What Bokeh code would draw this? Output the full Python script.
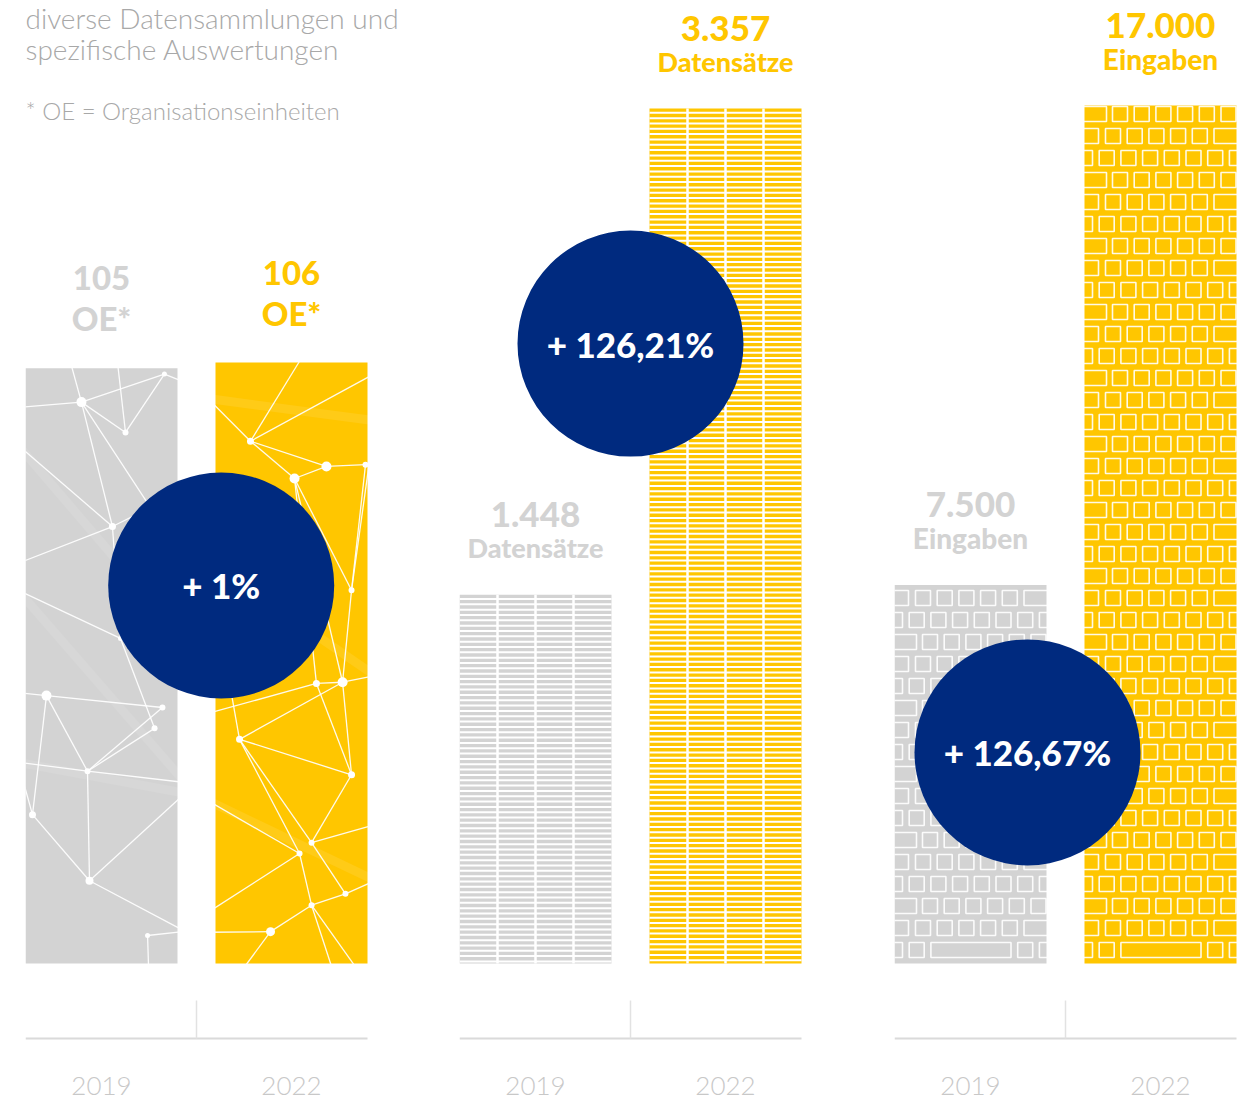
from bokeh.plotting import figure
from bokeh.layouts import row
from bokeh.models import Range1d, FixedTicker, Label
from bokeh.core.properties import value
from bokeh.embed import file_html
from bokeh.resources import INLINE

# ---------------- data ----------------
years = ["2019", "2022"]
oe_counts = [105, 106]
datensaetze = [1448, 3357]
eingaben = [7500, 17000]
units = ["OE*", "Datensätze", "Eingaben"]
change_labels = ["+ 1%", "+ 126,21%", "+ 126,67%"]
intro_lines = ["diverse Datensammlungen und", "spezifische Auswertungen"]
footnote = "* OE = Organisationseinheiten"

# ---------------- style / layout ----------------
GRAY = "#d3d3d3"
YELLOW = "#ffc600"
NAVY = "#002a7f"
TEXT_GRAY = "#a8a8a8"
LABEL_GRAY = "#d3d3d3"
YEAR_GRAY = "#c8c8c8"
AXIS_GRAY = "#dadada"
FONT_HEAVY = "'Lato Black', Lato"
FONT_LIGHT = "'Lato Light', Lato"

FIG_H = 1099
BASE = 963            # value 0 in px from top of frame
AXIS_PX = 1038        # axis line in px from top of frame
PX_PER_UNIT = 190.0   # px per category step
BAR_W = 0.8
BAR_PX = BAR_W * PX_PER_UNIT

# ---------------- decoration (texture styles, in bar-relative units) ----------------
# network texture: nodes (u across bar, v down from bar top, dot size px), edges
NET = [
    dict(nodes=[(.368, .057, 10), (.658, .108, 6), (.914, .010, 5), (.572, .266, 7), (.625, .454, 5),
                (.138, .550, 10), (.901, .570, 6), (.849, .605, 6), (.408, .677, 6), (.046, .750, 7),
                (.421, .861, 8), (.803, .953, 5),
                (-.05, .066, 0), (.296, -.01, 0), (.605, -.01, 0), (1.05, .323, 0), (-.05, .129, 0),
                (1.05, .205, 0), (-.05, .328, 0), (-.05, .373, 0), (-.05, .545, 0), (1.05, .696, 0),
                (1.05, .714, 0), (1.05, .946, 0), (.81, 1.01, 0), (-.05, .662, 0), (1.05, .024, 0),
                (1.05, .457, 0)],
         edges=[(12, 0), (0, 2), (0, 1), (1, 2), (2, 26), (13, 0), (14, 1), (0, 3), (0, 15), (16, 3),
                (3, 17), (18, 3), (19, 4), (3, 4), (4, 27), (20, 5), (5, 6), (5, 8), (8, 7), (8, 6),
                (25, 8), (8, 21), (8, 10), (10, 22), (9, 10), (10, 23), (11, 23), (11, 24), (4, 7),
                (9, 25), (5, 9)],
         glow=[(16, 27), (25, 22), (19, 21)]),
    dict(nodes=[(.230, .131, 7), (.520, .193, 10), (.730, .173, 10), (.987, .170, 6), (.895, .379, 6),
                (.664, .534, 7), (.836, .532, 10), (.158, .627, 7), (.895, .686, 7), (.632, .799, 6),
                (.553, .817, 6), (.855, .884, 6), (.632, .903, 6), (.362, .947, 9),
                (-.05, .06, 0), (1.05, .018, 0), (.572, -.01, 0), (-.05, .584, 0), (1.05, .521, 0),
                (-.05, .729, 0), (1.05, .769, 0), (-.05, .915, 0), (-.05, .948, 0), (.178, 1.01, 0),
                (.77, 1.01, 0), (.934, 1.01, 0), (1.05, .862, 0), (-.05, .33, 0), (1.05, .097, 0)],
         edges=[(14, 0), (0, 15), (0, 1), (0, 2), (1, 2), (2, 3), (16, 0), (1, 4), (3, 4), (1, 5),
                (1, 6), (17, 5), (5, 6), (6, 18), (7, 6), (7, 8), (7, 10), (7, 9), (8, 9), (6, 8),
                (5, 8), (19, 10), (9, 20), (10, 21), (10, 12), (9, 11), (11, 12), (12, 13), (13, 22),
                (13, 23), (12, 24), (12, 25), (11, 26), (27, 7), (4, 28), (4, 6)],
         glow=[(27, 18), (19, 26), (14, 28)]),
]

# keyboard texture: key rows (left px, width px) relative to bar left
KEY_ROWS = {
    "A": [(-7, 15), (14.7, 15), (36.4, 15), (58.1, 15), (79.8, 15), (101.5, 15), (123.2, 15), (144.9, 15)],
    "B": [(-3, 25), (28, 15), (49.7, 15), (71.4, 15), (93.1, 15), (114.8, 15), (136.5, 15)],
    "C": [(-3, 17), (21, 15), (42.7, 15), (64.4, 15), (86.1, 15), (107.8, 15), (129.5, 25)],
    "S": [(-7, 15), (14.7, 15), (36.4, 80.1), (123.2, 15), (144.9, 15)],
}
KEY_PITCH, KEY_H, KEY_BOTTOM = 22, 15, 6
ROW_PITCH, ROW_GAP = 5.33, 2.0

groups = [
    dict(vals=oe_counts, unit=units[0], change=change_labels[0], tex="net", top_px=362,
         num_off=90, num_size="33px", unit_off=50, unit_size="33px", circle=(0.63, 0.629),
         left=25, frame=388),
    dict(vals=datensaetze, unit=units[1], change=change_labels[1], tex="rows", top_px=108,
         num_off=80, num_size="35px", unit_off=47, unit_size="27px", circle=(0.5, 0.725),
         left=46, frame=388),
    dict(vals=eingaben, unit=units[2], change=change_labels[2], tex="keys", top_px=105,
         num_off=80, num_size="35px", unit_off=47, unit_size="28px", circle=(0.3, 0.246),
         left=47, frame=346),
]


def fmt(v):
    return f"{v:,}".replace(",", ".")


figs = []
for gi, g in enumerate(groups):
    vals = g["vals"]
    vmax = max(vals)
    k = (BASE - g["top_px"]) / vmax          # px per value unit
    x_start = -BAR_W / 2
    x_end = x_start + g["frame"] / PX_PER_UNIT
    p = figure(width=g["left"] + g["frame"], height=FIG_H,
               x_range=Range1d(x_start, x_end),
               y_range=Range1d(-(FIG_H - BASE) / k, BASE / k),
               output_backend="svg", toolbar_location=None,
               y_axis_location=None,
               min_border_left=g["left"], min_border_right=0,
               min_border_top=0, min_border_bottom=0,
               outline_line_color=None, background_fill_color="white",
               border_fill_color="white")
    p.grid.grid_line_color = None
    xs = list(range(len(years)))

    p.vbar(x=xs, top=vals, bottom=0, width=BAR_W,
           fill_color=[GRAY, YELLOW], line_color=None)

    if g["tex"] == "net":
        for xc, v, net in zip(xs, vals, NET):
            px = [xc - BAR_W / 2 + u * BAR_W for (u, _, _) in net["nodes"]]
            py = [v * (1 - t) for (_, t, _) in net["nodes"]]
            for key, alpha, lw in (("glow", 0.09, 9), ("edges", 0.92, 1.3)):
                e = net[key]
                p.segment(x0=[px[a] for a, b in e], y0=[py[a] for a, b in e],
                          x1=[px[b] for a, b in e], y1=[py[b] for a, b in e],
                          line_color="white", line_alpha=alpha, line_width=lw)
            dots = [(x, y, s) for x, y, (_, _, s) in zip(px, py, net["nodes"]) if s > 0]
            p.scatter(x=[d[0] for d in dots], y=[d[1] for d in dots], size=[d[2] for d in dots],
                      marker="circle", fill_color="white", line_color=None)

    elif g["tex"] == "rows":
        lx0, lx1, ly = [], [], []
        gx, gy = [], []
        for xc, v in zip(xs, vals):
            h = v * k
            d = 4.3
            while d < h - 1:
                lx0.append(xc - BAR_W / 2)
                lx1.append(xc + BAR_W / 2)
                ly.append((h - d) / k)
                d += ROW_PITCH
            for j in (1, 2, 3):
                gx.append(xc - BAR_W / 2 + j * BAR_W / 4)
                gy.append(v)
        p.segment(x0=lx0, y0=ly, x1=lx1, y1=ly, line_color="white", line_width=ROW_GAP)
        p.segment(x0=gx, y0=[0] * len(gx), x1=gx, y1=gy, line_color="white", line_width=2.5)

    else:  # keyboard
        L, R, B, T = [], [], [], []
        for xc, v in zip(xs, vals):
            h = v * k
            j = 0
            while KEY_BOTTOM + KEY_PITCH * j < h - 2:
                kind = "S" if j == 0 else "ACB"[j % 3]
                bot = KEY_BOTTOM + KEY_PITCH * j
                for (l, w) in KEY_ROWS[kind]:
                    L.append(xc - BAR_W / 2 + l / PX_PER_UNIT)
                    R.append(xc - BAR_W / 2 + (l + w) / PX_PER_UNIT)
                    B.append(bot / k)
                    T.append(min(bot + KEY_H, h + 3) / k)
                j += 1
        p.quad(left=L, right=R, bottom=B, top=T, fill_color=None,
               line_color="white", line_alpha=0.9, line_width=1.6)

    # value labels above bars
    p.text(x=xs, y=vals, text=[fmt(v) for v in vals], y_offset=-g["num_off"],
           text_align="center", text_baseline="middle",
           text_color=[LABEL_GRAY, YELLOW], text_font=value(FONT_HEAVY),
           text_font_style="bold", text_font_size=g["num_size"])
    p.text(x=xs, y=vals, text=[g["unit"]] * len(vals), y_offset=-g["unit_off"],
           text_align="center", text_baseline="middle",
           text_color=[LABEL_GRAY, YELLOW], text_font=value(FONT_HEAVY),
           text_font_style="bold", text_font_size=g["unit_size"])

    # change circle
    cx, cyf = g["circle"]
    cy = cyf * vmax
    p.circle(x=[cx], y=[cy], radius=113, radius_units="screen",
             fill_color=NAVY, line_color=None)
    p.text(x=[cx], y=[cy], text=[g["change"]], text_align="center",
           text_baseline="middle", text_color="white", text_font=value(FONT_HEAVY),
           text_font_style="bold", text_font_size="35px")

    # base line of the group
    axis_y = -(AXIS_PX - BASE) / k
    p.segment(x0=[x_start], y0=[axis_y], x1=[x_start + 2 * BAR_W + (PX_PER_UNIT - BAR_PX) / PX_PER_UNIT],
              y1=[axis_y], line_color=AXIS_GRAY, line_width=2)

    # axis (years + separator tick), fixed on the base line
    ax = p.xaxis[0]
    ax.fixed_location = axis_y
    ax.ticker = FixedTicker(ticks=xs, minor_ticks=[0.5])
    ax.major_label_overrides = {i: y for i, y in enumerate(years)}
    ax.axis_line_color = None
    ax.major_tick_in = 0
    ax.major_tick_out = 0
    ax.minor_tick_in = 38
    ax.minor_tick_out = 0
    ax.minor_tick_line_color = "#e2e2e2"
    ax.minor_tick_line_width = 1.5
    ax.major_label_standoff = 38
    ax.major_label_text_font = FONT_LIGHT
    ax.major_label_text_font_size = "26px"
    ax.major_label_text_color = YEAR_GRAY

    if gi == 0:
        for txt, cy_px, fs in [(intro_lines[0], 17, "28px"), (intro_lines[1], 48, "28px"),
                               (footnote, 110, "24px")]:
            p.add_layout(Label(x=x_start, y=(BASE - cy_px) / k, x_units="data", y_units="data",
                               text=txt, text_font=FONT_LIGHT, text_font_size=fs,
                               text_color=TEXT_GRAY, text_baseline="middle"))
    figs.append(p)

layout = row(*figs)
open("out.html", "w").write(file_html(layout, INLINE))
